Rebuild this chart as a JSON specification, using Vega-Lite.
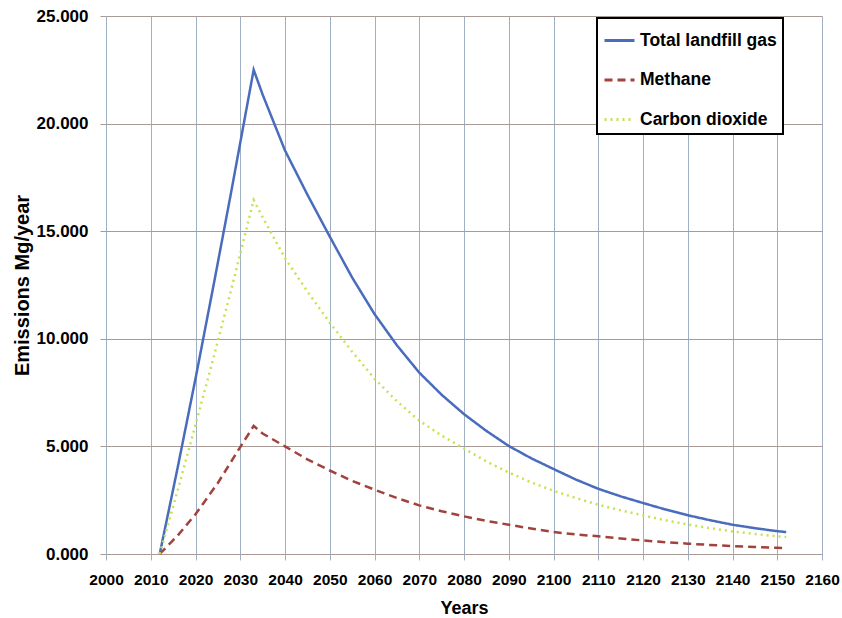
{
  "$schema": "https://vega.github.io/schema/vega-lite/v6.json",
  "width": 716,
  "height": 538,
  "autosize": {"type": "none"},
  "padding": {"left": 106, "top": 16, "right": 20, "bottom": 64},
  "background": "white",
  "config": {"view": {"stroke": null}},
  "data": {
    "values": [
      {"year": 2012, "value": 0, "series": "Total landfill gas"},
      {"year": 2016, "value": 4000, "series": "Total landfill gas"},
      {"year": 2020, "value": 8150, "series": "Total landfill gas"},
      {"year": 2024, "value": 12450, "series": "Total landfill gas"},
      {"year": 2028, "value": 16850, "series": "Total landfill gas"},
      {"year": 2033, "value": 22500, "series": "Total landfill gas"},
      {"year": 2035, "value": 21350, "series": "Total landfill gas"},
      {"year": 2040, "value": 18750, "series": "Total landfill gas"},
      {"year": 2045, "value": 16700, "series": "Total landfill gas"},
      {"year": 2050, "value": 14750, "series": "Total landfill gas"},
      {"year": 2055, "value": 12850, "series": "Total landfill gas"},
      {"year": 2060, "value": 11150, "series": "Total landfill gas"},
      {"year": 2065, "value": 9700, "series": "Total landfill gas"},
      {"year": 2070, "value": 8430, "series": "Total landfill gas"},
      {"year": 2075, "value": 7400, "series": "Total landfill gas"},
      {"year": 2080, "value": 6500, "series": "Total landfill gas"},
      {"year": 2085, "value": 5720, "series": "Total landfill gas"},
      {"year": 2090, "value": 5020, "series": "Total landfill gas"},
      {"year": 2095, "value": 4450, "series": "Total landfill gas"},
      {"year": 2100, "value": 3950, "series": "Total landfill gas"},
      {"year": 2105, "value": 3460, "series": "Total landfill gas"},
      {"year": 2110, "value": 3030, "series": "Total landfill gas"},
      {"year": 2115, "value": 2680, "series": "Total landfill gas"},
      {"year": 2120, "value": 2370, "series": "Total landfill gas"},
      {"year": 2125, "value": 2070, "series": "Total landfill gas"},
      {"year": 2130, "value": 1800, "series": "Total landfill gas"},
      {"year": 2135, "value": 1570, "series": "Total landfill gas"},
      {"year": 2140, "value": 1360, "series": "Total landfill gas"},
      {"year": 2145, "value": 1200, "series": "Total landfill gas"},
      {"year": 2150, "value": 1060, "series": "Total landfill gas"},
      {"year": 2152, "value": 1020, "series": "Total landfill gas"},
      {"year": 2012, "value": 0, "series": "Methane"},
      {"year": 2016, "value": 850, "series": "Methane"},
      {"year": 2020, "value": 1850, "series": "Methane"},
      {"year": 2025, "value": 3300, "series": "Methane"},
      {"year": 2030, "value": 4970, "series": "Methane"},
      {"year": 2033, "value": 5950, "series": "Methane"},
      {"year": 2035, "value": 5600, "series": "Methane"},
      {"year": 2040, "value": 5000, "series": "Methane"},
      {"year": 2045, "value": 4400, "series": "Methane"},
      {"year": 2050, "value": 3880, "series": "Methane"},
      {"year": 2055, "value": 3400, "series": "Methane"},
      {"year": 2060, "value": 2990, "series": "Methane"},
      {"year": 2065, "value": 2600, "series": "Methane"},
      {"year": 2070, "value": 2260, "series": "Methane"},
      {"year": 2075, "value": 1990, "series": "Methane"},
      {"year": 2080, "value": 1750, "series": "Methane"},
      {"year": 2085, "value": 1540, "series": "Methane"},
      {"year": 2090, "value": 1360, "series": "Methane"},
      {"year": 2095, "value": 1180, "series": "Methane"},
      {"year": 2100, "value": 1020, "series": "Methane"},
      {"year": 2105, "value": 910, "series": "Methane"},
      {"year": 2110, "value": 820, "series": "Methane"},
      {"year": 2115, "value": 720, "series": "Methane"},
      {"year": 2120, "value": 630, "series": "Methane"},
      {"year": 2125, "value": 550, "series": "Methane"},
      {"year": 2130, "value": 480, "series": "Methane"},
      {"year": 2135, "value": 420, "series": "Methane"},
      {"year": 2140, "value": 370, "series": "Methane"},
      {"year": 2145, "value": 330, "series": "Methane"},
      {"year": 2150, "value": 290, "series": "Methane"},
      {"year": 2152, "value": 280, "series": "Methane"},
      {"year": 2012, "value": 0, "series": "Carbon dioxide"},
      {"year": 2016, "value": 2950, "series": "Carbon dioxide"},
      {"year": 2020, "value": 6000, "series": "Carbon dioxide"},
      {"year": 2024, "value": 9100, "series": "Carbon dioxide"},
      {"year": 2028, "value": 12300, "series": "Carbon dioxide"},
      {"year": 2033, "value": 16450, "series": "Carbon dioxide"},
      {"year": 2035, "value": 15650, "series": "Carbon dioxide"},
      {"year": 2040, "value": 13750, "series": "Carbon dioxide"},
      {"year": 2045, "value": 12200, "series": "Carbon dioxide"},
      {"year": 2050, "value": 10750, "series": "Carbon dioxide"},
      {"year": 2055, "value": 9400, "series": "Carbon dioxide"},
      {"year": 2060, "value": 8150, "series": "Carbon dioxide"},
      {"year": 2065, "value": 7100, "series": "Carbon dioxide"},
      {"year": 2070, "value": 6200, "series": "Carbon dioxide"},
      {"year": 2075, "value": 5500, "series": "Carbon dioxide"},
      {"year": 2080, "value": 4900, "series": "Carbon dioxide"},
      {"year": 2085, "value": 4300, "series": "Carbon dioxide"},
      {"year": 2090, "value": 3790, "series": "Carbon dioxide"},
      {"year": 2095, "value": 3330, "series": "Carbon dioxide"},
      {"year": 2100, "value": 2940, "series": "Carbon dioxide"},
      {"year": 2105, "value": 2600, "series": "Carbon dioxide"},
      {"year": 2110, "value": 2290, "series": "Carbon dioxide"},
      {"year": 2115, "value": 2030, "series": "Carbon dioxide"},
      {"year": 2120, "value": 1795, "series": "Carbon dioxide"},
      {"year": 2125, "value": 1570, "series": "Carbon dioxide"},
      {"year": 2130, "value": 1370, "series": "Carbon dioxide"},
      {"year": 2135, "value": 1200, "series": "Carbon dioxide"},
      {"year": 2140, "value": 1050, "series": "Carbon dioxide"},
      {"year": 2145, "value": 930, "series": "Carbon dioxide"},
      {"year": 2150, "value": 820, "series": "Carbon dioxide"},
      {"year": 2152, "value": 790, "series": "Carbon dioxide"}
    ]
  },
  "mark": {"type": "line", "strokeWidth": 2.5, "strokeCap": "butt"},
  "encoding": {
    "x": {
      "field": "year",
      "type": "quantitative",
      "scale": {"domain": [2000, 2160], "nice": false, "zero": false},
      "axis": {
        "title": "Years",
        "values": [2000, 2010, 2020, 2030, 2040, 2050, 2060, 2070, 2080, 2090, 2100, 2110, 2120, 2130, 2140, 2150, 2160],
        "format": "d",
        "grid": true,
        "gridColor": "#9fb0c4",
        "gridOpacity": 1,
        "gridWidth": 1,
        "domain": false,
        "ticks": true,
        "tickColor": "#9fb0c4",
        "tickSize": 6,
        "labelFont": "Liberation Sans",
        "labelFontSize": 15.5,
        "labelFontWeight": "bold",
        "labelColor": "black",
        "labelPadding": 12,
        "labelFlush": false,
        "titleFont": "Liberation Sans",
        "titleFontSize": 18,
        "titleFontWeight": "bold",
        "titleColor": "black",
        "titlePadding": 12
      }
    },
    "y": {
      "field": "value",
      "type": "quantitative",
      "scale": {"domain": [0, 25000], "nice": false},
      "axis": {
        "title": "Emissions Mg/year",
        "values": [0, 5000, 10000, 15000, 20000, 25000],
        "labelExpr": "format(datum.value / 1000, '.3f')",
        "grid": true,
        "gridColor": "#a89a94",
        "gridOpacity": 1,
        "gridWidth": 1,
        "domain": false,
        "ticks": true,
        "tickColor": "#a89a94",
        "tickSize": 6,
        "labelFont": "Liberation Sans",
        "labelFontSize": 17,
        "labelFontWeight": "bold",
        "labelColor": "black",
        "labelPadding": 12,
        "labelFlush": false,
        "titleFont": "Liberation Sans",
        "titleFontSize": 20,
        "titleFontWeight": "bold",
        "titleColor": "black",
        "titlePadding": 4
      }
    },
    "color": {
      "field": "series",
      "type": "nominal",
      "scale": {
        "domain": ["Total landfill gas", "Methane", "Carbon dioxide"],
        "range": ["#4a6cbc", "#a2423c", "#c6e24e"]
      },
      "legend": {
        "title": null,
        "orient": "none",
        "legendX": 491,
        "legendY": 2,
        "direction": "vertical",
        "strokeColor": "black",
        "fillColor": "white",
        "padding": 6,
        "symbolType": "stroke",
        "symbolSize": 900,
        "symbolStrokeWidth": 3,
        "labelFont": "Liberation Sans",
        "labelFontSize": 17.5,
        "labelFontWeight": "bold",
        "labelColor": "black",
        "labelOffset": 4,
        "labelLimit": 400,
        "rowPadding": 14.5,
        "encode": {"legend": {"update": {"strokeWidth": {"value": 2}}}}
      }
    },
    "strokeDash": {
      "field": "series",
      "type": "nominal",
      "scale": {
        "domain": ["Total landfill gas", "Methane", "Carbon dioxide"],
        "range": [[1, 0], [8, 5], [2, 4]]
      },
      "legend": null
    }
  }
}
